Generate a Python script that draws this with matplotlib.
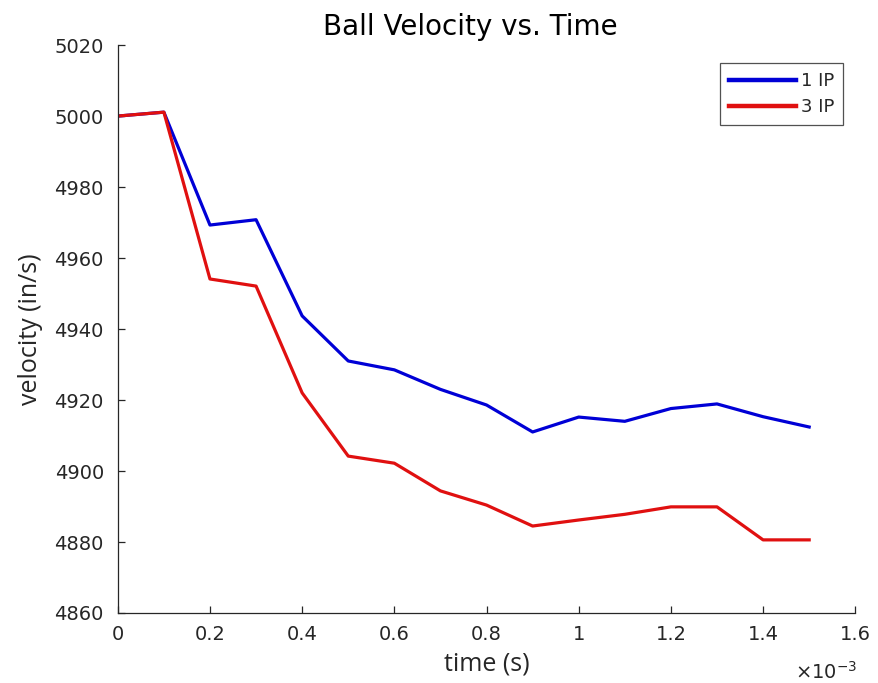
import matplotlib
matplotlib.use('Agg')
import matplotlib.pyplot as plt
from matplotlib.ticker import FuncFormatter, MultipleLocator

# time in seconds
time_s = [0.0, 0.0001, 0.0002, 0.0003, 0.0004, 0.0005, 0.0006, 0.0007,
          0.0008, 0.0009, 0.0010, 0.0011, 0.0012, 0.0013, 0.0014, 0.0015]
vel_1ip = [5000.0, 5001.1, 4969.3, 4970.8, 4943.7, 4931.0, 4928.5, 4923.0,
           4918.6, 4911.0, 4915.2, 4914.0, 4917.6, 4918.9, 4915.3, 4912.4]
vel_3ip = [5000.0, 5001.1, 4954.1, 4952.1, 4922.0, 4904.2, 4902.2, 4894.4,
           4890.4, 4884.5, 4886.2, 4887.8, 4889.9, 4889.9, 4880.6, 4880.6]
labels = ['1 IP', '3 IP']

grey = '#262626'
fig = plt.figure(figsize=(8.79, 6.83), dpi=100)
ax = fig.add_axes([0.134, 0.1025, 0.839, 0.8315])

ax.plot(time_s, vel_1ip, color='#0000d6', linewidth=2.3, label=labels[0])
ax.plot(time_s, vel_3ip, color='#e01010', linewidth=2.3, label=labels[1])

ax.set_xlim(0, 0.0016)
ax.set_ylim(4860, 5020)
ax.xaxis.set_major_locator(MultipleLocator(0.0002))
ax.yaxis.set_major_locator(MultipleLocator(20))
ax.xaxis.set_major_formatter(FuncFormatter(lambda v, p: '%g' % round(v * 1e3, 3)))

for s in ['top', 'right']:
    ax.spines[s].set_visible(False)
for s in ['left', 'bottom']:
    ax.spines[s].set_color(grey)
    ax.spines[s].set_linewidth(0.9)
ax.tick_params(direction='in', length=5, width=0.9, colors=grey, labelsize=14)
ax.tick_params(axis='x', pad=9)
ax.tick_params(axis='y', pad=10)

ax.set_xlabel('time (s)', fontsize=18, color=grey, labelpad=5, family='Open Sans')
ax.set_ylabel('velocity (in/s)', fontsize=18, color=grey, labelpad=8,
              family='Open Sans')
# title sits slightly left of the axes centre in the original
fig.text(470 / 879, 1 - 35 / 683, 'Ball Velocity vs. Time', fontsize=20,
         color='black', ha='center', va='baseline')
ax.text(1.003, -0.085, r'$\times10^{-3}$', transform=ax.transAxes, ha='right',
        va='top', fontsize=14, color=grey)

leg = ax.legend(loc='upper right', bbox_to_anchor=(0.984, 0.968), fontsize=13,
                frameon=True, fancybox=False, handlelength=3.7,
                handletextpad=0.3, borderpad=0.5, labelspacing=0.45,
                borderaxespad=0)
leg.get_frame().set_edgecolor(grey)
leg.get_frame().set_linewidth(0.9)
for t in leg.get_texts():
    t.set_color(grey)
for h in leg.get_lines():
    h.set_linewidth(3.2)

fig.savefig('out.png', dpi=100)
